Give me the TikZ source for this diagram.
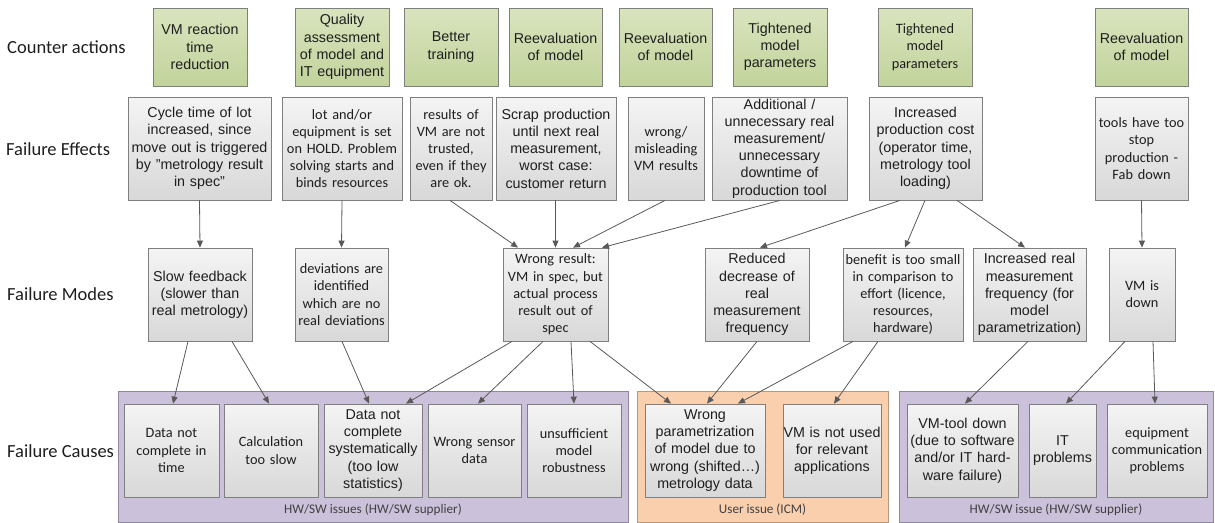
\documentclass[tikz,border=0pt]{standalone}
\usepackage{fontspec}
\setmainfont{Liberation Sans}
\newfontfamily\calfont{Carlito}
\usetikzlibrary{arrows.meta,shadows}
\definecolor{boxborder}{HTML}{7F7F7F}
\definecolor{textc}{HTML}{1E1E1E}
\definecolor{grytop}{HTML}{F4F4F4}
\definecolor{grybot}{HTML}{D8D8D8}
\definecolor{grntop}{HTML}{D9E4BE}
\definecolor{grnbot}{HTML}{C2D39C}
\definecolor{purfill}{HTML}{CCC1DA}
\definecolor{purborder}{HTML}{8F86A0}
\definecolor{orfill}{HTML}{F9CFAE}
\definecolor{orborder}{HTML}{B8997E}
\definecolor{arrc}{HTML}{595959}
\definecolor{labc}{HTML}{404040}
\tikzset{
  base/.style={draw=boxborder, line width=0.8pt, align=center, inner xsep=0.5pt, inner ysep=1.5pt,
    text=textc, font=\fontsize{14.3}{17.2}\selectfont,
    drop shadow={shadow xshift=1.2pt, shadow yshift=-1.2pt, opacity=0.3, fill=black!60}},
  grn/.style={base, top color=grntop, bottom color=grnbot},
  gry/.style={base, top color=grytop, bottom color=grybot},
  cal/.style={font=\calfont\fontsize{14.3}{17.2}\selectfont},
  rowlab/.style={font=\calfont\fontsize{18.5}{20}\selectfont, anchor=west, inner sep=0pt, text=textc},
  purbox/.style={draw=purborder, fill=purfill, line width=0.8pt, inner sep=0pt},
  orbox/.style={draw=orborder, fill=orfill, line width=0.8pt, inner sep=0pt},
  grplab/.style={font=\calfont\fontsize{13.2}{14}\selectfont, text=labc, inner sep=0pt},
  arr/.style={draw=arrc, line width=0.8pt, -{Triangle[length=7pt,width=6pt]}},
}
\begin{document}
\begin{tikzpicture}[x=1pt,y=-1pt]
\useasboundingbox (0,0) rectangle (1215,522);

% row labels
\node[rowlab] (lca) at (7,47) {Counter actions};
\node[rowlab] (lfe) at (6,149) {Failure Effects};
\node[rowlab] (lfm) at (7,294) {Failure Modes};
\node[rowlab] (lfc) at (7,451) {Failure Causes};

% group containers
\node[purbox, minimum width=510pt, minimum height=131pt] (k1) at (373,456.5) {};
\node[orbox, minimum width=251pt, minimum height=131pt] (k2) at (762.5,456.5) {};
\node[purbox, minimum width=314pt, minimum height=131pt] (k3) at (1056,456.5) {};
\node[grplab] (k1l) at (373,510) {HW/SW issues (HW/SW supplier)};
\node[grplab] (k2l) at (762.5,510) {User issue (ICM)};
\node[grplab] (k3l) at (1056,510) {HW/SW issue (HW/SW supplier)};

% counter actions
\node[grn, minimum width=94pt, text width=92pt, minimum height=78pt] (ca1) at (200,47) {VM reaction\\time\\reduction};
\node[grn, minimum width=94pt, text width=92pt, minimum height=78pt] (ca2) at (342,47) {Quality\\assessment\\of model and\\IT equipment};
\node[grn, minimum width=94pt, text width=92pt, minimum height=78pt] (ca3) at (451,47) {Better\\training};
\node[grn, minimum width=93pt, text width=91pt, minimum height=78pt] (ca4) at (555.5,47) {Reevaluation\\of model};
\node[grn, minimum width=93pt, text width=91pt, minimum height=78pt] (ca5) at (665.5,47) {Reevaluation\\of model};
\node[grn, minimum width=94pt, text width=92pt, minimum height=78pt] (ca6) at (780,47) {Tightened\\model\\parameters};
\node[grn, cal, minimum width=94pt, text width=92pt, minimum height=78pt] (ca7) at (925,47) {Tightened\\model\\parameters};
\node[grn, minimum width=93pt, text width=91pt, minimum height=78pt] (ca8) at (1141.5,47) {Reevaluation\\of model};

% failure effects
\node[gry, minimum width=143pt, text width=141pt, minimum height=103pt] (fe1) at (199.5,148.5) {Cycle time of lot\\increased, since\\move out is triggered\\by "metrology result\\in spec"};
\node[gry, cal, minimum width=120pt, text width=118pt, minimum height=103pt] (fe2) at (342,148.5) {lot and/or\\equipment is set\\on HOLD. Problem\\solving starts and\\binds resources};
\node[gry, cal, minimum width=82pt, text width=80pt, minimum height=103pt] (fe3) at (451,148.5) {results of\\VM are not\\trusted,\\even if they\\are ok.};
\node[gry, minimum width=120pt, text width=118pt, minimum height=103pt] (fe4) at (556,148.5) {Scrap production\\until next real\\measurement,\\worst case:\\customer return};
\node[gry, cal, minimum width=76pt, text width=74pt, minimum height=103pt] (fe5) at (666,148.5) {wrong/\\misleading\\VM results};
\node[gry, minimum width=135pt, text width=133pt, minimum height=103pt] (fe6) at (779.5,148.5) {Additional /\\unnecessary real\\measurement/\\unnecessary\\downtime of\\production tool};
\node[gry, minimum width=113pt, text width=111pt, minimum height=103pt] (fe7) at (925.5,148.5) {Increased\\production cost\\(operator time,\\metrology tool\\loading)};
\node[gry, cal, minimum width=93pt, text width=91pt, minimum height=103pt] (fe8) at (1141.5,148.5) {tools have too\\stop\\production -\\Fab down};

% failure modes
\node[gry, minimum width=104pt, text width=102pt, minimum height=93pt] (fm1) at (200,294.5) {Slow feedback\\(slower than\\real metrology)};
\node[gry, cal, minimum width=93pt, text width=91pt, minimum height=93pt] (fm2) at (341.5,294.5) {deviations are\\identified\\which are no\\real deviations};
\node[gry, cal, minimum width=105pt, text width=103pt, minimum height=93pt] (fm3) at (555.5,294.5) {Wrong result:\\VM in spec, but\\actual process\\result out of\\spec};
\node[gry, minimum width=104pt, text width=102pt, minimum height=93pt] (fm4) at (757,294.5) {Reduced\\decrease of\\real\\measurement\\frequency};
\node[gry, cal, minimum width=120pt, text width=118pt, minimum height=93pt] (fm5) at (903,294.5) {benefit is too small\\in comparison to\\effort (licence,\\resources,\\hardware)};
\node[gry, minimum width=113pt, text width=111pt, minimum height=93pt] (fm6) at (1029.5,294.5) {Increased real\\measurement\\frequency (for\\model\\parametrization)};
\node[gry, cal, minimum width=66pt, text width=64pt, minimum height=93pt] (fm7) at (1142,294.5) {VM is\\down};

% failure causes
\node[gry, cal, minimum width=95pt, text width=93pt, minimum height=93pt] (c1) at (171.5,450.5) {Data not\\complete in\\time};
\node[gry, cal, minimum width=94pt, text width=92pt, minimum height=93pt] (c2) at (271,450.5) {Calculation\\too slow};
\node[gry, minimum width=98pt, text width=96pt, minimum height=93pt] (c3) at (373,450.5) {Data not\\complete\\systematically\\(too low\\statistics)};
\node[gry, cal, minimum width=93pt, text width=91pt, minimum height=93pt] (c4) at (474.5,450.5) {Wrong sensor\\data};
\node[gry, cal, minimum width=94pt, text width=92pt, minimum height=93pt] (c5) at (574,450.5) {unsufficient\\model\\robustness};
\node[gry, minimum width=120pt, text width=118pt, minimum height=93pt] (c6) at (705,450.5) {Wrong\\parametrization\\of model due to\\wrong (shifted…)\\metrology data};
\node[gry, minimum width=98pt, text width=97pt, minimum height=93pt] (c7) at (832,450.5) {VM is not used\\for relevant\\applications};
\node[gry, minimum width=111pt, text width=109pt, minimum height=93pt] (c8) at (962.5,450.5) {VM-tool down\\(due to software\\and/or IT hard-\\ware failure)};
\node[gry, minimum width=67pt, text width=65pt, minimum height=93pt] (c9) at (1062.5,450.5) {IT\\problems};
\node[gry, cal, minimum width=100pt, text width=98pt, minimum height=93pt] (c10) at (1157,450.5) {equipment\\communication\\problems};

% effects -> modes
\draw[arr] (fe1.south) -- (fm1.north);
\draw[arr] (fe2.south) -- (fm2.north);
\draw[arr] ([xshift=-1pt]fe3.south) -- ([xshift=-37.5pt]fm3.north);
\draw[arr] ([xshift=-0.5pt]fe4.south) -- (fm3.north);
\draw[arr] ([xshift=-1pt]fe5.south) -- ([xshift=17.5pt]fm3.north);
\draw[arr] ([xshift=0.5pt]fe6.south) -- ([xshift=46.5pt]fm3.north);
\draw[arr] ([xshift=-25.5pt]fe7.south) -- ([xshift=3pt]fm4.north);
\draw[arr] ([xshift=-0.5pt]fe7.south) -- ([xshift=2pt]fm5.north);
\draw[arr] ([xshift=31.5pt]fe7.south) -- ([xshift=-4.5pt]fm6.north);
\draw[arr] (fe8.south) -- (fm7.north);

% modes -> causes
\draw[arr] ([xshift=-12pt]fm1.south) -- ([xshift=1.5pt]c1.north);
\draw[arr] ([xshift=32pt]fm1.south) -- ([xshift=-2pt]c2.north);
\draw[arr] ([xshift=0.5pt]fm2.south) -- ([xshift=-4pt]c3.north);
\draw[arr] ([xshift=-43.5pt]fm3.south) -- ([xshift=33pt]c3.north);
\draw[arr] ([xshift=-12.5pt]fm3.south) -- ([xshift=3.5pt]c4.north);
\draw[arr] ([xshift=15.5pt]fm3.south) -- (c5.north);
\draw[arr] ([xshift=34.5pt]fm3.south) -- ([xshift=-34pt]c6.north);
\draw[arr] (fm4.south) -- ([xshift=2pt]c6.north);
\draw[arr] ([xshift=-50pt]fm5.south) -- ([xshift=33pt]c6.north);
\draw[arr] ([xshift=-25pt]fm5.south) -- ([xshift=2pt]c7.north);
\draw[arr] ([xshift=-1.5pt]fm6.south) -- ([xshift=2.5pt]c8.north);
\draw[arr] ([xshift=-17pt]fm7.south) -- ([xshift=3.5pt]c9.north);
\draw[arr] ([xshift=11pt]fm7.south) -- ([xshift=-2pt]c10.north);
\end{tikzpicture}
\end{document}
